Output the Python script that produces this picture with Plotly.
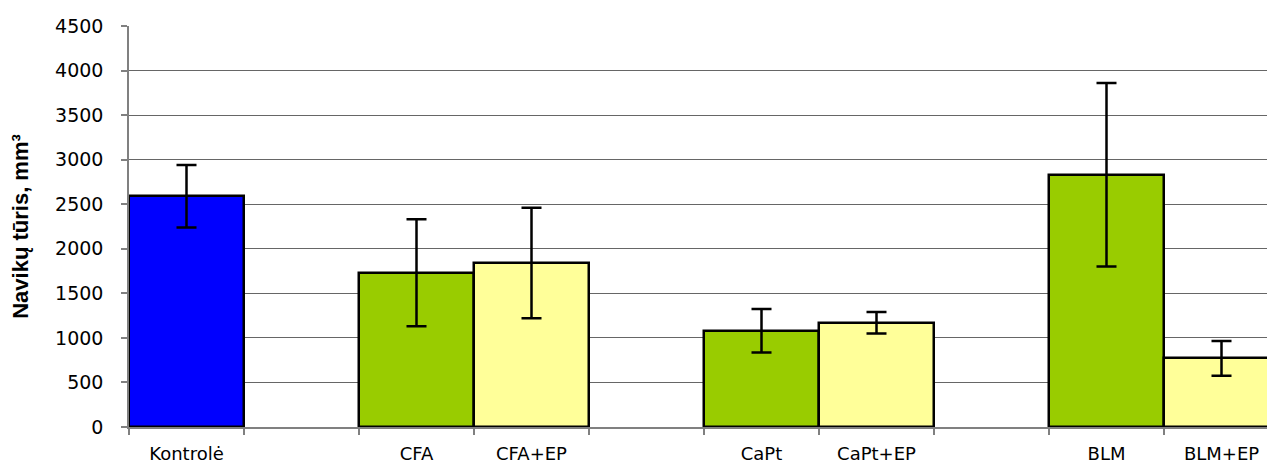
import plotly.graph_objects as go

# Data
groups = ["Kontrolė", "CFA", "CFA+EP", "CaPt", "CaPt+EP", "BLM", "BLM+EP"]
volumes = [2590, 1730, 1840, 1080, 1170, 2830, 770]
errors = [350, 600, 620, 245, 120, 1030, 195]
bar_colors = ["#0000FF", "#99CC00", "#FFFF99", "#99CC00", "#FFFF99", "#99CC00", "#FFFF99"]
y_ticks = [0, 500, 1000, 1500, 2000, 2500, 3000, 3500, 4000, 4500]

# Category slots: empty slots separate the treatment groups
blank_after = {"Kontrolė", "CFA+EP", "CaPt+EP"}
slots = []
n_blank = 0
for g in groups:
    slots.append(g)
    if g in blank_after:
        n_blank += 1
        slots.append(" " * n_blank)

fig = go.Figure()
fig.add_trace(go.Bar(
    x=groups,
    y=volumes,
    marker=dict(color=bar_colors, line=dict(color="#000000", width=2.5)),
    error_y=dict(type="data", array=errors, visible=True,
                 color="#000000", thickness=2.5, width=10),
    width=1.0,
    showlegend=False,
))

fig.update_layout(
    width=1267, height=466,
    margin=dict(l=129, r=0, t=26, b=39),
    paper_bgcolor="white", plot_bgcolor="white",
    bargap=0,
    font=dict(family="DejaVu Sans, Arial", size=19, color="#000000"),
    xaxis=dict(
        type="category",
        categoryorder="array", categoryarray=slots,
        range=[-0.5, -0.5 + 1138 / 115],
        tickson="boundaries",
        ticks="outside", ticklen=6, tickcolor="#808080", tickwidth=1.5,
        showline=True, linecolor="#808080", linewidth=1.5,
        showgrid=False,
        ticklabelstandoff=10,
        tickfont=dict(family="DejaVu Sans, Arial", size=18),
        automargin=False,
    ),
    yaxis=dict(
        range=[0, 4500],
        tickvals=y_ticks,
        ticks="outside", ticklen=6, tickcolor="#808080", tickwidth=1.5,
        showline=True, linecolor="#808080", linewidth=1.5,
        showgrid=True, gridcolor="#666666", gridwidth=1,
        zeroline=False,
        ticklabelstandoff=14,
        tickfont=dict(family="DejaVu Sans, Arial", size=19),
        title=dict(text="<b>Navikų tūris, mm³</b>",
                   font=dict(family="Liberation Sans, Arial", size=22),
                   standoff=20),
        automargin=False,
    ),
)

fig.write_html("out.html", config={"displayModeBar": False},
               post_script="document.body.style.margin='0';")
